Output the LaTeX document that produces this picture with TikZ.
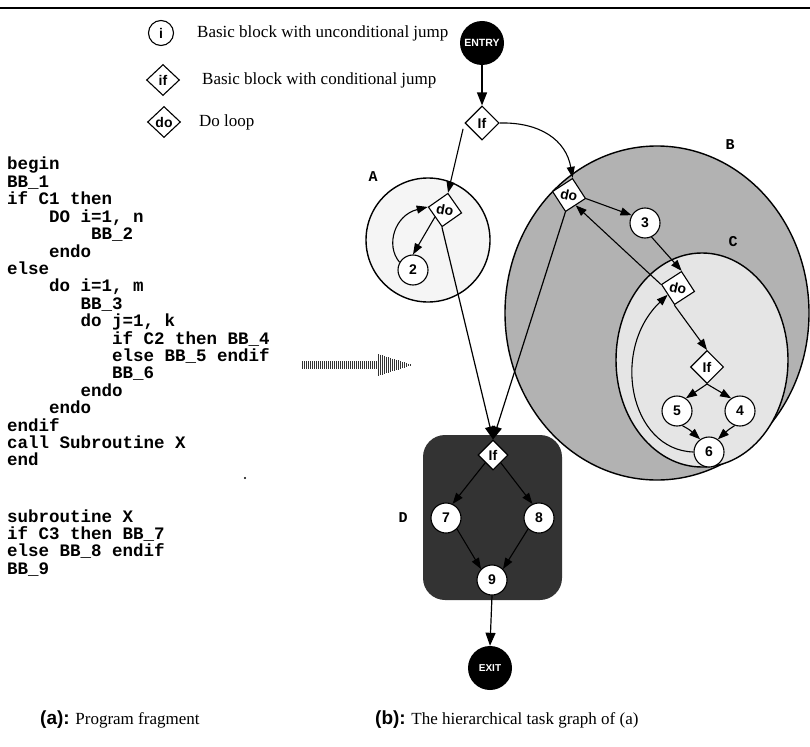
\documentclass[tikz,border=0pt]{standalone}
\usepackage{fontspec}
\setmainfont{Liberation Serif}
\setsansfont{Liberation Sans}
\setmonofont{Liberation Mono}
\usetikzlibrary{shapes.geometric,arrows.meta}
\begin{document}
\begin{tikzpicture}[x=1pt,y=-1pt,
  every node/.style={inner sep=0pt},
  lbl/.style={font=\sffamily\bfseries\fontsize{14}{14}\selectfont},
  bb/.style={circle,draw,line width=1.1pt,fill=white,minimum size=30pt,lbl},
  cj/.style={diamond,draw,line width=1.1pt,fill=white,minimum width=34pt,minimum height=34pt,lbl},
  term/.style={circle,fill=black,minimum size=44pt,text=white},
  arr/.style={line width=1.1pt,-{Triangle[length=11pt,width=8pt]}},
  bigarr/.style={line width=1.2pt,-{Triangle[length=13pt,width=10pt]}},
  code/.style={anchor=base west,font=\ttfamily\bfseries\fontsize{17.5}{17.5}\selectfont},
  region/.style={font=\ttfamily\bfseries\fontsize{15}{15}\selectfont},
  legtext/.style={anchor=west,font=\fontsize{17}{17}\selectfont},
  caption/.style={anchor=base west,font=\fontsize{17}{17}\selectfont},
  hatch/.style={line width=0.9pt,black!80},
]
\useasboundingbox (0,0) rectangle (810,746);
% top rule
\draw[line width=2.5pt] (0,8) -- (810,8);

% ---------- legend ----------
\node[bb,minimum size=25pt] (legi) at (161,33) {i};
\node[legtext] (legit) at (197,33) {Basic block with unconditional jump};
\node[cj,minimum width=33pt,minimum height=31pt] (legif) at (163,80) {if};
\node[legtext] (legift) at (202,80) {Basic block with conditional jump};
\node[cj,minimum width=33pt,minimum height=31pt] (legdo) at (164,122) {do};
\node[legtext] (legdot) at (199,122) {Do loop};

% ---------- program text ----------
\node[code] (l0)  at (7+0*10.5, 170+0*17.4)  {begin};
\node[code] (l1)  at (7+0*10.5, 170+1*17.4)  {BB\_1};
\node[code] (l2)  at (7+0*10.5, 170+2*17.4)  {if C1 then};
\node[code] (l3)  at (7+4*10.5, 170+3*17.4)  {DO i=1, n};
\node[code] (l4)  at (7+8*10.5, 170+4*17.4)  {BB\_2};
\node[code] (l5)  at (7+4*10.5, 170+5*17.4)  {endo};
\node[code] (l6)  at (7+0*10.5, 170+6*17.4)  {else};
\node[code] (l7)  at (7+4*10.5, 170+7*17.4)  {do i=1, m};
\node[code] (l8)  at (7+7*10.5, 170+8*17.4)  {BB\_3};
\node[code] (l9)  at (7+7*10.5, 170+9*17.4)  {do j=1, k};
\node[code] (l10) at (7+10*10.5, 170+10*17.4) {if C2 then BB\_4};
\node[code] (l11) at (7+10*10.5, 170+11*17.4) {else BB\_5 endif};
\node[code] (l12) at (7+10*10.5, 170+12*17.4) {BB\_6};
\node[code] (l13) at (7+7*10.5, 170+13*17.4) {endo};
\node[code] (l14) at (7+4*10.5, 170+14*17.4) {endo};
\node[code] (l15) at (7+0*10.5, 170+15*17.4) {endif};
\node[code] (l16) at (7+0*10.5, 170+16*17.4) {call Subroutine X};
\node[code] (l17) at (7+0*10.5, 170+17*17.4) {end};
\node[code] (l18) at (7, 522)   {subroutine X};
\node[code] (l19) at (7, 539.4) {if C3 then BB\_7};
\node[code] (l20) at (7, 556.8) {else BB\_8 endif};
\node[code] (l21) at (7, 574.2) {BB\_9};
\fill (245,478) circle (1.2pt);

% ---------- hatched transition arrow ----------
\foreach \x in {302,304,...,376} \draw[hatch] (\x,361) -- (\x,369);
\foreach \x in {378,380,...,410} \draw[hatch] ({\x},{365-11*(412-\x)/34}) -- ({\x},{365+11*(412-\x)/34});

% ---------- regions ----------
\draw[line width=1.4pt, fill=black!30] (657,313) ellipse [x radius=152, y radius=167];
\draw[line width=1.4pt, fill=black!10] (702,360) ellipse [x radius=86, y radius=107];
\draw[line width=1.4pt, fill=black!4] (428,240) circle [radius=62];
\fill[black!80, rounded corners=22pt] (423,435) rectangle (562,600);
\node[region] (labA) at (373,177) {A};
\node[region] (labB) at (730,145) {B};
\node[region] (labC) at (733,242) {C};
\node[region] (labD) at (403,518) {D};

% ---------- graph nodes ----------
\node[term,font=\sffamily\bfseries\fontsize{10.5}{10.5}\selectfont] (entry) at (482,43) {ENTRY};
\node[cj] (if0) at (482,123) {If};
\node[cj,rotate=-10] (doA) at (445,210) {do};
\node[bb] (n2) at (413,270) {2};
\node[cj,rotate=-12] (doB) at (569,195) {do};
\node[bb] (n3) at (645,223) {3};
\node[cj,rotate=-12] (doC) at (678,288) {do};
\node[cj,minimum width=33pt,minimum height=33pt] (ifC) at (707,367) {If};
\node[bb] (n5) at (677,411) {5};
\node[bb] (n4) at (740,411) {4};
\node[bb] (n6) at (709,452) {6};
\node[cj,minimum width=30pt,minimum height=30pt] (ifD) at (493,455) {If};
\node[bb] (n7) at (446,518) {7};
\node[bb] (n8) at (539,518) {8};
\node[bb] (n9) at (492,580) {9};
\node[term,font=\sffamily\bfseries\fontsize{10}{10}\selectfont] (exit) at (490,668) {EXIT};

% ---------- edges ----------
\draw[bigarr] (entry) -- (if0);
\draw[arr,shorten <=6pt] (if0.west) -- (doA.north);
\draw[arr] (if0.east) .. controls (540,122) and (566,140) .. (doB.north);
\draw[arr] (doA.south west) -- (n2.north);
\draw[arr] (n2.150) .. controls (385,245) and (395,215) .. (doA.west);
\draw[bigarr] (doA.south) -- (ifD.north);
\draw[bigarr] (doB.south) -- (ifD.north);
\draw[arr] (doB.east) -- (n3.150);
\draw[arr] (n3.-65) -- (doC.north);
\draw[arr] (doC.west) -- (doB.south east);
\draw[arr] (doC.south) -- (ifC.north);
\draw[arr] (ifC.south) -- (n5.55);
\draw[arr] (ifC.south) -- (n4.125);
\draw[arr] (n5.-70) .. controls (690,430) .. (n6.125);
\draw[arr] (n4.-110) .. controls (728,430) .. (n6.55);
\draw[arr] (n6.west) .. controls (630,450) and (610,350) .. (doC.south west);
\draw[arr] (ifD.south west) -- (n7.65);
\draw[arr] (ifD.south east) -- (n8.115);
\draw[arr] (n7.-45) -- (n9.135);
\draw[arr] (n8.-135) -- (n9.45);
\draw[bigarr] (n9.south) -- (exit.north);

% ---------- captions ----------
\node[caption] (capa) at (40,724) {{\sffamily\bfseries\fontsize{19}{19}\selectfont (a):} Program fragment};
\node[caption] (capb) at (375,724) {{\sffamily\bfseries\fontsize{19}{19}\selectfont (b):} The hierarchical task graph of (a)};
\end{tikzpicture}
\end{document}
